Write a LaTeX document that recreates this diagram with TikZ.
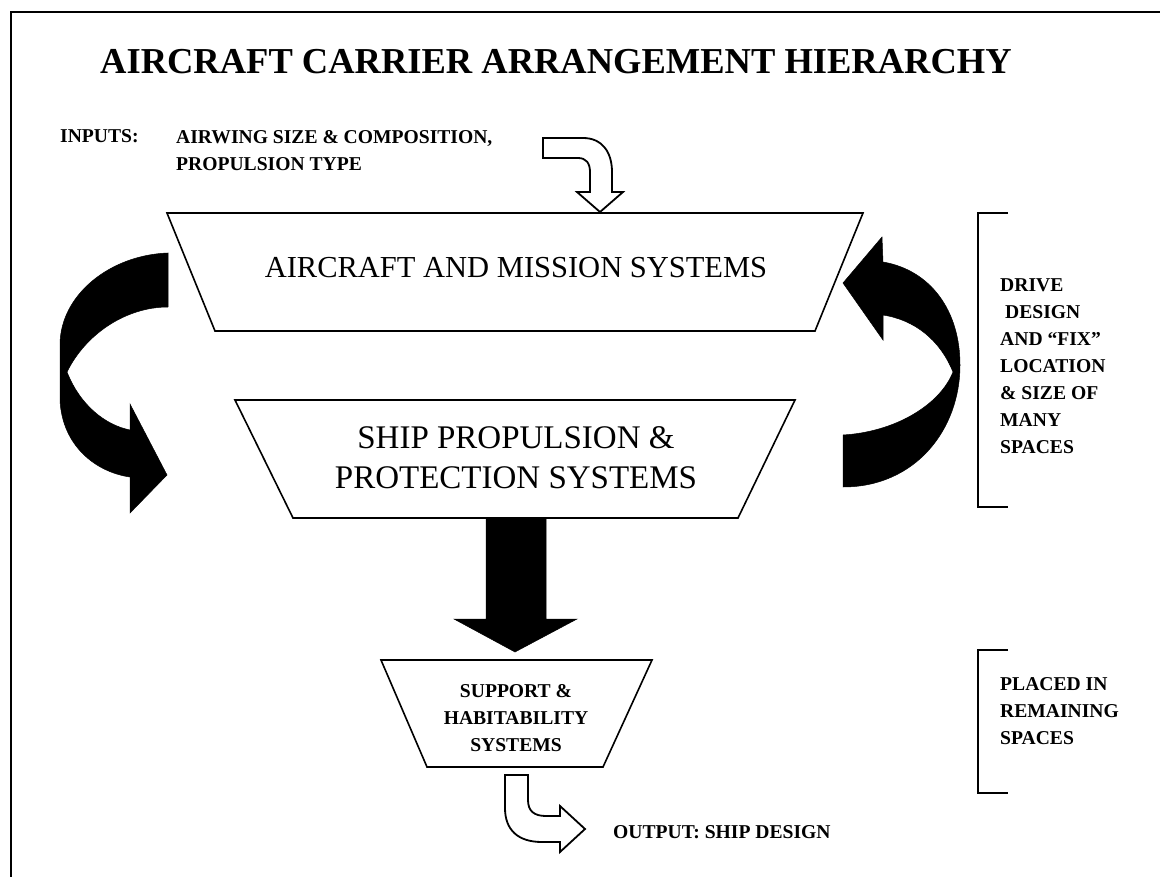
\documentclass[tikz,border=0pt]{standalone}
\usepackage{fontspec}
\setmainfont{Liberation Serif}
\begin{document}
\begin{tikzpicture}[x=1pt,y=-1pt,
  trapbox/.style={draw=black, line width=1.6pt, fill=white, line join=miter},
  solidarrow/.style={fill=black, draw=black, line width=0.5pt, line join=miter},
  hollowarrow/.style={draw=black, line width=1.8pt, fill=white, line join=miter},
  bracketline/.style={draw=black, line width=2pt},
  frameline/.style={draw=black, line width=2pt},
  titletext/.style={font=\bfseries\fontsize{36.5}{40}\selectfont, inner sep=0pt},
  bigtext/.style={font=\fontsize{30.5}{40}\selectfont, inner sep=0pt, align=center},
  smalltext/.style={font=\bfseries\fontsize{19.6}{27}\selectfont, inner sep=0pt}
]
\useasboundingbox (0,0) rectangle (1160,877);

% frame (left and top lines only)
\draw[frameline] (11,877) -- (11,12) -- (1160,12);

% title
\node[titletext] (title) at (556,62) {AIRCRAFT CARRIER ARRANGEMENT HIERARCHY};

% inputs
\node[smalltext, anchor=base west] (inlab) at (60,143) {INPUTS:};
\node[smalltext, anchor=north west, align=left] (intext) at (176,130) {AIRWING SIZE \& COMPOSITION,\\PROPULSION TYPE};

% input hollow arrow
\draw[hollowarrow] (543,138) -- (583,138) .. controls (602,138) and (612,152) .. (612,172)
  -- (612,192) -- (623,192) -- (600,212) -- (577,192) -- (590,192) -- (590,172)
  .. controls (590,163) and (586,158) .. (578,158) -- (543,158) -- cycle;

% top trapezoid
\draw[trapbox] (167,213) -- (863,213) -- (815,331) -- (215,331) -- cycle;
\node[bigtext] (aircraft) at (516,268) {AIRCRAFT AND MISSION SYSTEMS};

% second trapezoid
\draw[trapbox] (235,400) -- (795,400) -- (738,518) -- (293,518) -- cycle;
\node[bigtext, font=\fontsize{33}{40}\selectfont] (ship) at (516,458) {SHIP PROPULSION \&\\PROTECTION SYSTEMS};

% left curved black arrow
\fill[solidarrow] (168,253) .. controls (110,255) and (60,295) .. (60,345)
  -- (60,400) .. controls (62,445) and (95,472) .. (130,477)
  -- (130,513) -- (167,475) -- (130,404) -- (130,430)
  .. controls (105,425) and (80,405) .. (67,372)
  .. controls (85,335) and (125,307) .. (168,307) -- cycle;

% right curved black arrow
\fill[solidarrow] (883,262) .. controls (930,270) and (960,310) .. (960,365)
  .. controls (960,430) and (915,487) .. (843,487) -- (843,435)
  .. controls (895,432) and (940,405) .. (953,372)
  .. controls (940,340) and (915,320) .. (883,315)
  -- (883,340) -- (843,283) -- (882,237) -- cycle;

% bracket 1 and text
\draw[bracketline] (1008,213) -- (978,213) -- (978,507) -- (1008,507);
\node[smalltext, anchor=north west, align=left] (drive) at (1000,278)
  {DRIVE\\\hspace*{5pt}DESIGN\\AND “FIX”\\LOCATION\\\& SIZE OF\\MANY\\SPACES};

% big black down arrow
\fill[solidarrow] (486,518) -- (546,518) -- (546,619) -- (577,619) -- (515,652)
  -- (454,619) -- (486,619) -- cycle;

% third trapezoid
\draw[trapbox] (381,660) -- (652,660) -- (603,767) -- (427,767) -- cycle;
\node[smalltext, anchor=north, align=center] (support) at (516,684)
  {SUPPORT \&\\HABITABILITY\\SYSTEMS};

% bracket 2 and text
\draw[bracketline] (1008,650) -- (978,650) -- (978,793) -- (1008,793);
\node[smalltext, anchor=north west, align=left] (placed) at (1000,677)
  {PLACED IN\\REMAINING\\SPACES};

% output hollow arrow
\draw[hollowarrow] (505,775) -- (528,775) -- (528,800)
  .. controls (528,811) and (534,816) .. (546,816) -- (560,816) -- (560,806)
  -- (585,829) -- (560,852) -- (560,842) -- (542,842)
  .. controls (518,842) and (505,830) .. (505,808) -- cycle;
\node[smalltext, anchor=base west] (output) at (613,838) {OUTPUT: SHIP DESIGN};
\end{tikzpicture}
\end{document}
